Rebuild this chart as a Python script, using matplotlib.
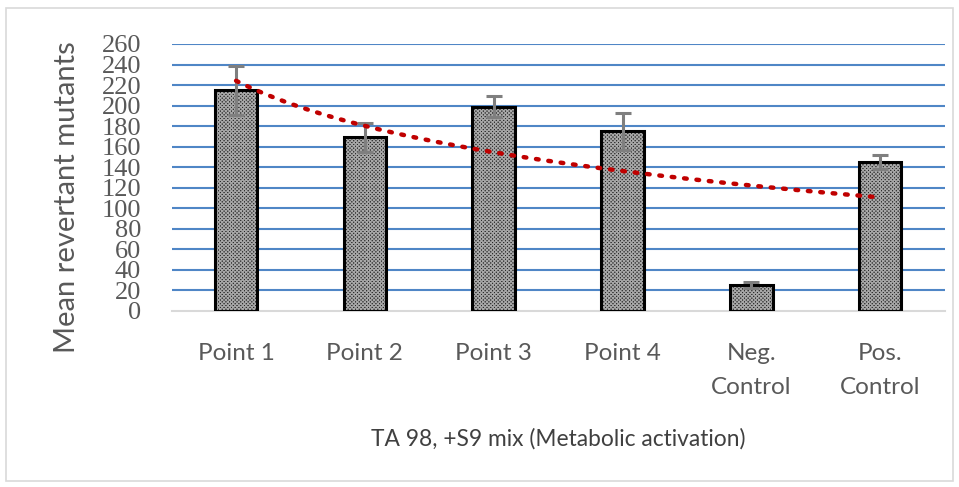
import numpy as np
import matplotlib.pyplot as plt
from matplotlib.patches import Rectangle

categories = ['Point 1', 'Point 2', 'Point 3', 'Point 4', 'Neg.\nControl', 'Pos.\nControl']
means = [215, 169, 199, 175, 25, 145]
errors = [24, 14, 10, 18, 3, 7]
yticks = list(range(0, 261, 20))

x = np.arange(1, len(categories) + 1)

plt.rcParams['hatch.linewidth'] = 0.9

fig = plt.figure(figsize=(9.59, 4.87), dpi=100)
ax = fig.add_axes([0.179, 0.3614, 0.806, 0.5483])

# frame around the whole chart
fig.patches.append(Rectangle((0.006, 0.012), 0.988, 0.972, transform=fig.transFigure,
                             fill=False, edgecolor='#d9d9d9', linewidth=1.2))

# gridlines
for t in yticks[1:]:
    ax.axhline(t, color='#4f86c6', linewidth=1.5, zorder=0)

# hatched bars, then black outline
ax.bar(x, means, width=0.33, facecolor='#262626', edgecolor='#a8a8a8', linewidth=0,
       hatch='x' * 9, zorder=2)
ax.bar(x, means, width=0.33, fill=False, edgecolor='black', linewidth=2.2, zorder=3)

ax.errorbar(x, means, yerr=errors, fmt='none', ecolor='#7f7f7f', elinewidth=2.2,
            capsize=6, capthick=2.2, zorder=4)

# logarithmic trendline fitted to the means
b, a = np.polyfit(np.log(x), means, 1)
xs = np.linspace(1, 6, 200)
ax.plot(xs, a + b * np.log(xs), color='#c00000', linestyle=(0, (0.6, 2.2)),
        linewidth=3.2, dash_capstyle='round', zorder=5)

ax.set_xlim(0.5, 6.5)
ax.set_ylim(0, 260)
ax.set_yticks(yticks)
ax.set_xticks(x)
ax.set_xticklabels(categories, fontsize=17.5, color='#595959', family='Lato',
                   linespacing=1.75)
ax.tick_params(axis='x', length=0, pad=23)
ax.tick_params(axis='y', length=0, pad=22, labelsize=19, labelcolor='#595959')
for lab in ax.get_yticklabels():
    lab.set_family('Liberation Serif')

for s in ['top', 'right', 'left']:
    ax.spines[s].set_visible(False)
ax.spines['bottom'].set_color('#d9d9d9')
ax.spines['bottom'].set_linewidth(1.5)

ax.set_ylabel('Mean revertant mutants', fontsize=21, color='#595959', family='Lato')
ax.yaxis.set_label_coords(-0.119, 0.427)
ax.set_xlabel('TA 98, +S9 mix (Metabolic activation)', fontsize=16.4, color='#404040',
              family='Lato', labelpad=22)

fig.savefig('out.png', dpi=100)
